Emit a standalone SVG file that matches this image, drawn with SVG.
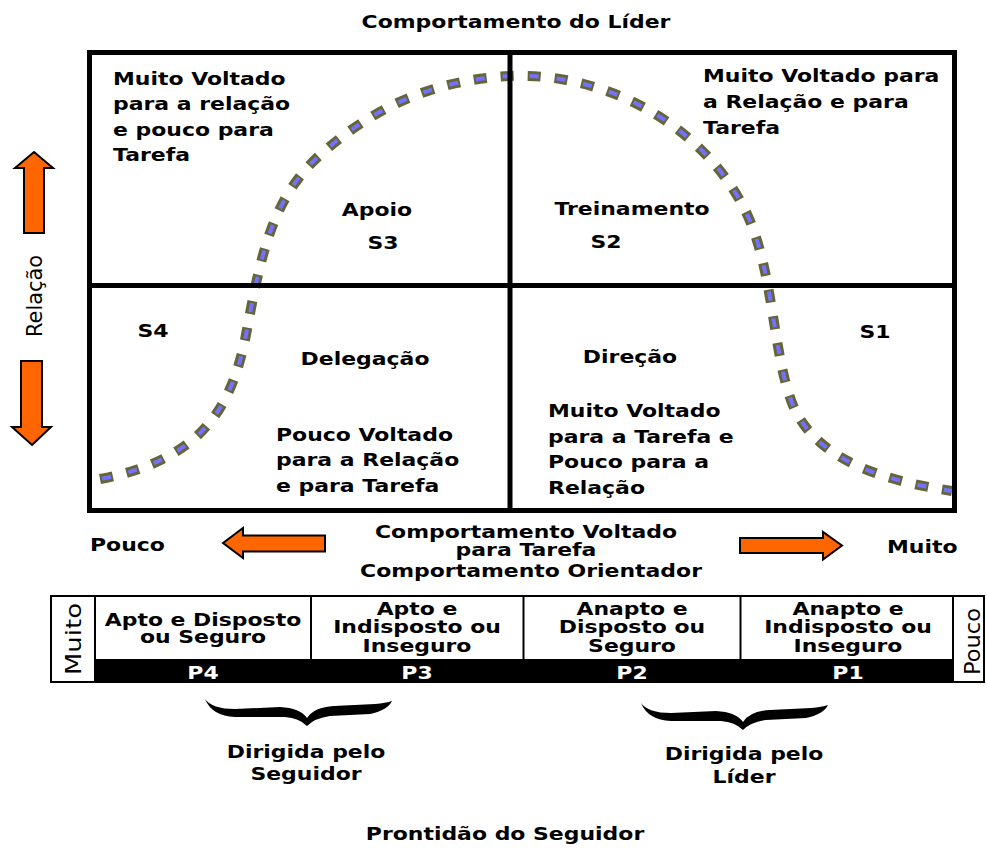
<svg xmlns="http://www.w3.org/2000/svg" width="987" height="848" viewBox="0 0 987 848">
<style>
.t{font-family:"DejaVu Sans",Verdana,sans-serif;font-weight:bold;font-size:18px;fill:#000}
.s{font-size:17px}
.c{text-anchor:middle}
.w{fill:#fff}
.r{font-family:"DejaVu Sans",Verdana,sans-serif;font-size:20px;fill:#000;text-anchor:middle}
.arrow{fill:#ff6600;stroke:#000;stroke-width:2;stroke-linejoin:miter}
.ln{stroke:#000;fill:none}
.brace{fill:#000}
</style>
<rect width="987" height="848" fill="#fff"/>

<text class="t c" transform="translate(516,0) scale(1.22 1)"><tspan x="0" y="28">Comportamento do Líder</tspan></text>

<g id="curve">
<path d="M100,479 C200,460 230,410 245,340 C260,260 270,200 320,155 C370,110 430,80 510,76 C600,72 700,120 745,210 C775,270 772,360 795,410 C820,460 880,480 952,491" fill="none" stroke="#66653a" stroke-width="10" stroke-dasharray="13 14"/>
<path d="M100,479 C200,460 230,410 245,340 C260,260 270,200 320,155 C370,110 430,80 510,76 C600,72 700,120 745,210 C775,270 772,360 795,410 C820,460 880,480 952,491" fill="none" stroke="#7272ff" stroke-width="4" stroke-dasharray="9 18" stroke-dashoffset="-2"/>
</g>

<g id="grid">
<rect x="89.5" y="52.5" width="865" height="458" class="ln" stroke-width="5"/>
<line x1="510" y1="52" x2="510" y2="510" class="ln" stroke-width="5"/>
<line x1="89" y1="285.5" x2="955" y2="285.5" class="ln" stroke-width="5"/>
</g>

<g id="q-s3">
<text class="t" transform="translate(113,0) scale(1.22 1)"><tspan x="0" y="85">Muito Voltado</tspan><tspan x="0" y="110.5">para a relação</tspan><tspan x="0" y="136">e pouco para</tspan><tspan x="0" y="161.5">Tarefa</tspan></text>
<text class="t c" transform="translate(377,0) scale(1.22 1)"><tspan x="0" y="216">Apoio</tspan></text>
<text class="t c" transform="translate(383,0) scale(1.22 1)"><tspan x="0" y="249">S3</tspan></text>
</g>

<g id="q-s2">
<text class="t" transform="translate(703,0) scale(1.22 1)"><tspan x="0" y="82">Muito Voltado para</tspan><tspan x="0" y="108">a Relação e para</tspan><tspan x="0" y="134">Tarefa</tspan></text>
<text class="t c" transform="translate(632,0) scale(1.22 1)"><tspan x="0" y="215">Treinamento</tspan></text>
<text class="t c" transform="translate(606,0) scale(1.22 1)"><tspan x="0" y="248">S2</tspan></text>
</g>

<g id="q-s4">
<text class="t c" transform="translate(153,0) scale(1.22 1)"><tspan x="0" y="337">S4</tspan></text>
<text class="t c" transform="translate(365,0) scale(1.22 1)"><tspan x="0" y="365">Delegação</tspan></text>
<text class="t" transform="translate(276,0) scale(1.22 1)"><tspan x="0" y="441">Pouco Voltado</tspan><tspan x="0" y="466.5">para a Relação</tspan><tspan x="0" y="492">e para Tarefa</tspan></text>
</g>

<g id="q-s1">
<text class="t c" transform="translate(875,0) scale(1.22 1)"><tspan x="0" y="338">S1</tspan></text>
<text class="t c" transform="translate(630,0) scale(1.22 1)"><tspan x="0" y="363">Direção</tspan></text>
<text class="t" transform="translate(548,0) scale(1.22 1)"><tspan x="0" y="417">Muito Voltado</tspan><tspan x="0" y="443">para a Tarefa e</tspan><tspan x="0" y="468.5">Pouco para a</tspan><tspan x="0" y="494">Relação</tspan></text>
</g>

<g id="relacao-axis">
<polygon class="arrow" points="34,152 53,168 44,168 44,233 24,233 24,168 15,168"/>
<polygon class="arrow" points="32,445 51,427 42,427 42,361 21,361 21,427 12,427"/>
<text class="r" transform="translate(42,296) rotate(-90)" style="font-size:21px" textLength="82" lengthAdjust="spacingAndGlyphs">Relação</text>
</g>

<g id="tarefa-axis">
<text class="t" transform="translate(90,0) scale(1.22 1)"><tspan x="0" y="551">Pouco</tspan></text>
<polygon class="arrow" points="223,543 243,528 243,535.5 325,535.5 325,551.5 243,551.5 243,558"/>
<polygon class="arrow" points="842,545.5 823,532 823,538 740,538 740,553 823,553 823,559.5"/>
<text class="t" transform="translate(887,0) scale(1.22 1)"><tspan x="0" y="553">Muito</tspan></text>
<text class="t c" transform="translate(526,0) scale(1.22 1)"><tspan x="0" y="538">Comportamento Voltado</tspan><tspan x="0" y="556">para Tarefa</tspan></text>
<text class="t c" transform="translate(531,0) scale(1.22 1)"><tspan x="0" y="577">Comportamento Orientador</tspan></text>
</g>

<g id="prontidao-table">
<rect x="51" y="596" width="933" height="86" fill="#fff" stroke="#000" stroke-width="2"/>
<rect x="95" y="659" width="858" height="24" fill="#000"/>
<line x1="95" y1="596" x2="95" y2="682" class="ln" stroke-width="2"/>
<line x1="953" y1="596" x2="953" y2="682" class="ln" stroke-width="2"/>
<line x1="311" y1="596" x2="311" y2="660" class="ln" stroke-width="2"/>
<line x1="523.5" y1="596" x2="523.5" y2="660" class="ln" stroke-width="2"/>
<line x1="740.5" y1="596" x2="740.5" y2="660" class="ln" stroke-width="2"/>
<text class="r" transform="translate(81,639) rotate(-90)" style="font-size:22px" textLength="72" lengthAdjust="spacingAndGlyphs">Muito</text>
<text class="r" transform="translate(979.5,641.5) rotate(-90)" style="font-size:22px" textLength="67" lengthAdjust="spacingAndGlyphs">Pouco</text>
<text class="t s c" transform="translate(203,0) scale(1.29 1)"><tspan x="0" y="626">Apto e Disposto</tspan><tspan x="0" y="643">ou Seguro</tspan></text>
<text class="t s c" transform="translate(417,0) scale(1.29 1)"><tspan x="0" y="615">Apto e</tspan><tspan x="0" y="633.5">Indisposto ou</tspan><tspan x="0" y="652">Inseguro</tspan></text>
<text class="t s c" transform="translate(632,0) scale(1.29 1)"><tspan x="0" y="615">Anapto e</tspan><tspan x="0" y="633.5">Disposto ou</tspan><tspan x="0" y="652">Seguro</tspan></text>
<text class="t s c" transform="translate(848,0) scale(1.29 1)"><tspan x="0" y="615">Anapto e</tspan><tspan x="0" y="633.5">Indisposto ou</tspan><tspan x="0" y="652">Inseguro</tspan></text>
<text class="t c w" transform="translate(203,0) scale(1.22 1)"><tspan x="0" y="679">P4</tspan></text>
<text class="t c w" transform="translate(417,0) scale(1.22 1)"><tspan x="0" y="679">P3</tspan></text>
<text class="t c w" transform="translate(632,0) scale(1.22 1)"><tspan x="0" y="679">P2</tspan></text>
<text class="t c w" transform="translate(848,0) scale(1.22 1)"><tspan x="0" y="679">P1</tspan></text>
</g>

<g id="seguidor">
<path class="brace" d="M205,699 Q212,709 235,709 L280,707 Q300,708 307,718 Q314,707 334,706 L375,704 Q386,703 392,701 Q388,710 370,714 L330,716 Q315,718 307,726 Q299,718 285,717 L235,717 Q212,716 205,699 Z"/>
<text class="t c" transform="translate(306,0) scale(1.22 1)"><tspan x="0" y="758">Dirigida pelo</tspan><tspan x="0" y="780">Seguidor</tspan></text>
</g>

<g id="lider">
<path class="brace" transform="translate(436,4)" d="M205,699 Q212,709 235,709 L280,707 Q300,708 307,718 Q314,707 334,706 L375,704 Q386,703 392,701 Q388,710 370,714 L330,716 Q315,718 307,726 Q299,718 285,717 L235,717 Q212,716 205,699 Z"/>
<text class="t c" transform="translate(744,0) scale(1.22 1)"><tspan x="0" y="760">Dirigida pelo</tspan><tspan x="0" y="783">Líder</tspan></text>
</g>

<text class="t c" transform="translate(505,0) scale(1.22 1)"><tspan x="0" y="840">Prontidão do Seguidor</tspan></text>
</svg>
